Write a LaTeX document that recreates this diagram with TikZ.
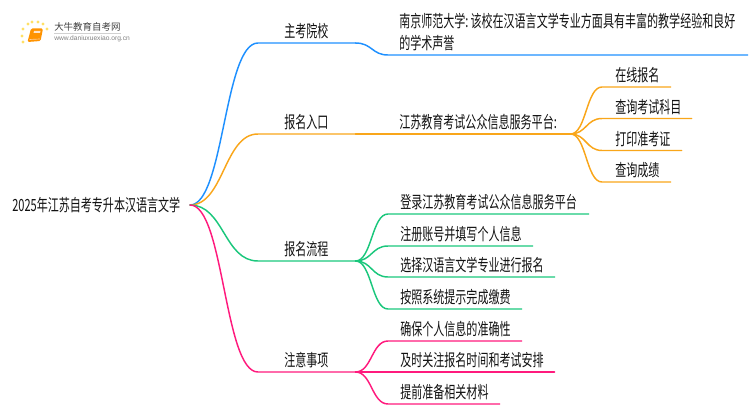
\documentclass[tikz,border=0pt]{standalone}
\usepackage{fontspec}
\usetikzlibrary{calc}
\setmainfont{Noto Sans CJK SC}[FakeStretch=0.657]
\newfontfamily\logofont{Noto Sans CJK SC}
\newfontfamily\urlfont{Liberation Sans}
\definecolor{cblue}{HTML}{1E90FF}
\definecolor{corange}{HTML}{F9A61A}
\definecolor{cgreen}{HTML}{1AC77C}
\definecolor{cpink}{HTML}{FF1A7D}
\definecolor{ctext}{HTML}{111111}
\tikzset{
  lab/.style={anchor=south west,inner xsep=0pt,inner ysep=2.6pt,align=left,text=ctext,font=\fontsize{12.6}{16.5}\selectfont},
  wire/.style={line width=1.1pt,line cap=round,line join=round}
}
\newcommand{\branchto}[4]{% colour, from, node, lead-in
  \coordinate (bte) at ($(#3.south west)+(-#4,0)$);
  \coordinate (btm) at ($(#2)!0.5!(bte)$);
  \draw[wire,#1] (#2) .. controls (btm |- #2) and (btm |- bte) .. (bte) -- (#3.south east);
}
\begin{document}
\begin{tikzpicture}[x=0.75pt,y=-0.75pt]
\useasboundingbox (0,0) rectangle (750,410);
% logo
\foreach \x/\y in {23/29,28/24,32/22,38/22,43/24,47/29,22/36,23/42}
  \fill[color=orange!40!yellow!60] (\x,\y) circle (1.6);
\fill[orange!85!yellow,rounded corners=1pt] (31,28.5) -- (43,28.5) -- (40.5,41) -- (27.5,42) -- cycle;
\fill[white!80!orange] (34,31) -- (40.5,31) -- (40,33) -- (33.5,33) -- cycle;
\draw[white!60!orange,line width=0.5pt] (29.5,39.5) -- (40,39);
\node[inner sep=0pt,anchor=west,text=black!75] (logot) at (54,27) {\logofont\fontsize{7.1}{8}\selectfont 大牛教育自考网};
\draw[black!18,line width=0.4pt] (54,33) -- (121,33);
\node[inner sep=0pt,anchor=west,text=black!50] (logou) at (54,38.5) {\urlfont\fontsize{5}{6}\selectfont www.daniuxuexiao.org.cn};
% nodes
\node[lab,text width=133.5pt] (root) at (12,216.5) {2025年江苏自考专升本汉语言文学};
\node[lab,text width=53.25pt] (b1) at (284,43) {主考院校};
\node[lab,text width=53.25pt] (b2) at (284,134) {报名入口};
\node[lab,text width=53.25pt] (b3) at (284,261) {报名流程};
\node[lab,text width=53.25pt] (b4) at (284,372) {注意事项};
\node[lab,text width=261pt] (t1) at (399,55) {南京师范大学:\hspace{1.5pt}该校在汉语言文学专业方面具有丰富的教学经验和良好\\的学术声誉};
\node[lab,text width=128.25pt] (t2) at (399,134) {江苏教育考试公众信息服务平台:};
\node[lab,text width=41.25pt] (o1) at (615,87) {在线报名};
\node[lab,text width=57pt] (o2) at (615,118.5) {查询考试科目};
\node[lab,text width=49.5pt] (o3) at (615,150.5) {打印准考证};
\node[lab,text width=41.25pt] (o4) at (615,182) {查询成绩};
\node[lab,text width=141pt] (g1) at (400,214) {登录江苏教育考试公众信息服务平台};
\node[lab,text width=99pt] (g2) at (400,246) {注册账号并填写个人信息};
\node[lab,text width=115.5pt] (g3) at (400,277) {选择汉语言文学专业进行报名};
\node[lab,text width=90.75pt] (g4) at (400,309) {按照系统提示完成缴费};
\node[lab,text width=90.75pt] (p1) at (400,341) {确保个人信息的准确性};
\node[lab,text width=115.5pt] (p2) at (400,372) {及时关注报名时间和考试安排};
\node[lab,text width=74.25pt] (p3) at (400,404) {提前准备相关材料};
% connectors
\coordinate (r) at (190,205);
\branchto{cblue}{r}{b1}{26}
\draw[wire,cblue] (b1.south east) .. controls (372,43) and (372,55) .. ($(t1.south west)+(-11,0)$) -- (t1.south east);
\branchto{corange}{r}{b2}{26}
\draw[wire,corange] (b2.south east) -- (t2.south west) -- (t2.south east);
\foreach \n in {o1,o2,o3,o4} { \branchto{corange}{t2.south east}{\n}{13} }
\branchto{cgreen}{r}{b3}{26}
\foreach \n in {g1,g2,g3,g4} { \branchto{cgreen}{b3.south east}{\n}{12} }
\branchto{cpink}{r}{b4}{26}
\foreach \n in {p1,p2,p3} { \branchto{cpink}{b4.south east}{\n}{12} }
\end{tikzpicture}
\end{document}
